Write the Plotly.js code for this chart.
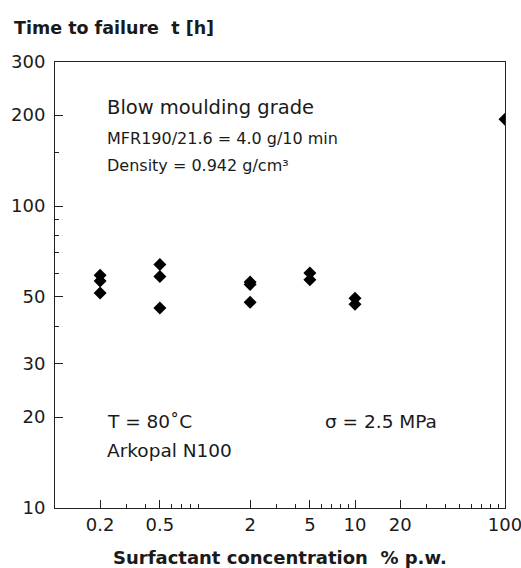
<!DOCTYPE html>
<html>
<head>
<meta charset="utf-8">
<script src="https://cdn.plot.ly/plotly-3.0.1.min.js"></script>
<style>html,body{margin:0;padding:0;background:#fff;}#chart{width:521px;height:568px;}</style>
</head>
<body>
<div id="chart"></div>
<script>
// Surfactant concentration (% p.w.) and time to failure (h)
const concentration = [0.2, 0.2, 0.2, 0.5, 0.5, 0.5, 2, 2, 2, 5, 5, 10, 10, 100];
const timeToFailure = [59, 56.5, 51.5, 64, 58.4, 46, 56, 55, 48, 60, 57, 49.5, 47.3, 194];

const xMajorTicks = [0.2, 0.5, 2, 5, 10, 20, 100];
const xMajorLabels = ['0.2', '0.5', '2', '5', '10', '20', '100'];
const xMinorTicks = [0.3, 0.4, 0.6, 0.7, 0.8, 0.9, 3, 4, 6, 7, 8, 9, 30, 40, 50, 60, 70, 80, 90];
const yMajorTicks = [10, 20, 30, 50, 100, 200, 300];
const yMajorLabels = ['10', '20', '30', '50', '100', '200', '300'];
const yMinorTicks = [40, 60, 70, 80, 90, 150];

const font = 'DejaVu Sans, Arial, sans-serif';
const ink = '#1a1a1a';

const data = [
  {x: concentration, y: timeToFailure, type: 'scatter', mode: 'markers',
   marker: {symbol: 'diamond', size: 10, color: '#000'}, cliponaxis: true, showlegend: false, hoverinfo: 'skip'},
  {x: [xMinorTicks[0]], y: [yMinorTicks[0]], xaxis: 'x2', yaxis: 'y2', type: 'scatter', mode: 'markers',
   marker: {opacity: 0}, showlegend: false, hoverinfo: 'skip'}
];

const axisBase = {type: 'log', showgrid: false, zeroline: false, showline: true, linecolor: '#222', linewidth: 1,
  mirror: true, ticks: 'inside', tickcolor: '#222', tickfont: {family: font, size: 18, color: ink},
  ticklabeloverflow: 'allow'};

function note(text, x, y, size, extra) {
  return Object.assign({text: text, xref: 'paper', yref: 'paper', x: x, y: y, xanchor: 'left', yanchor: 'middle',
    showarrow: false, font: {family: font, size: size, color: ink}}, extra || {});
}

const layout = {
  width: 521, height: 568,
  margin: {l: 55, r: 16, t: 62, b: 60},
  paper_bgcolor: '#fff', plot_bgcolor: '#fff',
  xaxis: Object.assign({}, axisBase, {range: [-1, 2], tickmode: 'array', tickvals: xMajorTicks, ticktext: xMajorLabels,
    ticklen: 8, ticklabelstandoff: 0}),
  yaxis: Object.assign({}, axisBase, {range: [1, Math.log10(300)], tickmode: 'array', tickvals: yMajorTicks, ticktext: yMajorLabels,
    ticklen: 8, ticklabelstandoff: 5}),
  xaxis2: {type: 'log', overlaying: 'x', range: [-1, 2], tickmode: 'array', tickvals: xMinorTicks, showticklabels: false,
    ticks: 'inside', ticklen: 4, tickcolor: '#222', showgrid: false, zeroline: false, showline: false, side: 'bottom'},
  yaxis2: {type: 'log', overlaying: 'y', range: [1, Math.log10(300)], tickmode: 'array', tickvals: yMinorTicks, showticklabels: false,
    ticks: 'inside', ticklen: 4, tickcolor: '#222', showgrid: false, zeroline: false, showline: false, side: 'left'},
  annotations: [
    note('Time to failure  t [h]', -0.0956, 1.0762, 17.5, {font: {family: font, size: 17.5, color: ink, weight: 'bold'}}),
    note('Blow moulding grade', 0.111, 0.897, 19.5),
    note('MFR190/21.6 = 4.0 g/10 min', 0.111, 0.8285, 16),
    note('Density = 0.942 g/cm³', 0.111, 0.769, 16),
    note('T = 80˚C', 0.111, 0.195, 18.5),
    note('Arkopal N100', 0.111, 0.130, 18.5),
    note('σ = 2.5 MPa', 0.5956, 0.195, 18.5),
    note('Surfactant concentration  % p.w.', 0.5, -0.1099, 18, {xanchor: 'center', font: {family: font, size: 18, color: ink, weight: 'bold'}})
  ]
};

Plotly.newPlot('chart', data, layout, {staticPlot: true, displayModeBar: false});
</script>
</body>
</html>
